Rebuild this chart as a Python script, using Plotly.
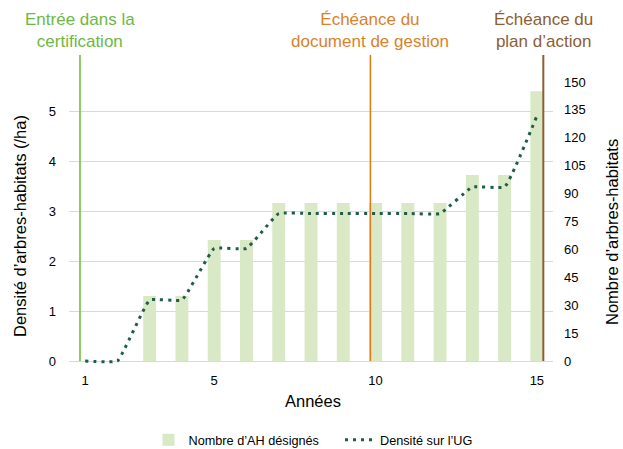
import plotly.graph_objects as go

# Data
years = list(range(1, 16))
nb_ah = [0, 0, 35, 35, 65, 65, 85, 85, 85, 85, 85, 85, 100, 100, 145]
densite = [0, 0, 1.22, 1.22, 2.25, 2.25, 2.95, 2.95, 2.95, 2.95, 2.95, 2.95, 3.48, 3.48, 4.9]
x_ticks = [1, 5, 10, 15]

milestones = [
    {"x": 0.84, "text": "Entrée dans la<br>certification", "line": "#8CC864", "font": "#6DB845", "w": 2},
    {"x": 9.84, "text": "Échéance du<br>document de gestion", "line": "#E07B10", "font": "#D9822B", "w": 1.5},
    {"x": 15.2, "text": "Échéance du<br>plan d’action", "line": "#8E5E30", "font": "#8B5E34", "w": 2},
]

W, H = 623, 449
L, R, T, B = 69, 70, 82, 85
plot_w = W - L - R
plot_h = H - T - B
FONT = "Liberation Sans, Arial, sans-serif"


def py(p):
    """Pixel row (from the top of the page) to paper y."""
    return (H - B - p) / plot_h


def px(p):
    """Pixel column to paper x."""
    return (p - L) / plot_w


fig = go.Figure()

fig.add_trace(go.Bar(
    x=years, y=nb_ah, name="Nombre d’AH désignés",
    marker=dict(color="#D9E8C5", line=dict(width=0)),
    width=0.4, yaxis="y",
))

fig.add_trace(go.Scatter(
    x=years, y=densite, name="Densité sur l’UG", mode="lines",
    line=dict(color="#1F5C4A", width=3, dash="3px,5px", shape="spline", smoothing=0.3),
    yaxis="y2",
))

shapes = []
annotations = []
for m in milestones:
    shapes.append(dict(type="line", xref="x", yref="paper", x0=m["x"], x1=m["x"],
                       y0=py(361), y1=py(55), line=dict(color=m["line"], width=m["w"])))
    annotations.append(dict(x=m["x"], y=py(8), xref="x", yref="paper",
                            text=m["text"], showarrow=False, xanchor="center", yanchor="top",
                            font=dict(family=FONT, size=17, color=m["font"])))

# Axis titles
annotations.append(dict(x=px(20), y=py(226), xref="paper", yref="paper",
                        text="Densité d’arbres-habitats (/ha)", showarrow=False, textangle=-90,
                        font=dict(family=FONT, size=16.5, color="#000000"),
                        xanchor="center", yanchor="middle"))
annotations.append(dict(x=px(612), y=py(232), xref="paper", yref="paper",
                        text="Nombre d’arbres-habitats", showarrow=False, textangle=-90,
                        font=dict(family=FONT, size=16.5, color="#000000"),
                        xanchor="center", yanchor="middle"))
annotations.append(dict(x=px(313), y=py(401), xref="paper", yref="paper",
                        text="Années", showarrow=False,
                        font=dict(family=FONT, size=16.5, color="#000000"),
                        xanchor="center", yanchor="middle"))

fig.update_layout(
    width=W, height=H,
    margin=dict(l=L, r=R, t=T, b=B, autoexpand=False),
    paper_bgcolor="white", plot_bgcolor="white",
    font=dict(family=FONT, size=13, color="#000000"),
    showlegend=True,
    legend=dict(orientation="h", x=px(148.5), xanchor="left", y=py(440),
                yanchor="middle", font=dict(family=FONT, size=12.7, color="#000000"),
                bgcolor="rgba(0,0,0,0)", entrywidth=146.5, entrywidthmode="pixels"),
    xaxis=dict(range=[0.5, 15.5], tickvals=x_ticks, ticktext=[str(v) for v in x_ticks],
               showgrid=False, zeroline=False, showline=False,
               ticks="", ticklabelstandoff=7, tickfont=dict(size=13)),
    yaxis=dict(range=[-1.6, 150], tickvals=list(range(0, 151, 15)), side="right",
               showgrid=False, zeroline=False, showline=False, ticks="",
               ticklabelstandoff=10, tickfont=dict(size=13)),
    yaxis2=dict(range=[-0.06, 5.58], tickvals=[0, 1, 2, 3, 4, 5], side="left", overlaying="y",
                showgrid=True, gridcolor="#D9D9D9", gridwidth=1, zeroline=False, showline=False,
                ticks="", ticklabelstandoff=12, tickfont=dict(size=13)),
    shapes=shapes,
    annotations=annotations,
    bargap=0.6,
)

fig.write_html("out.html")
